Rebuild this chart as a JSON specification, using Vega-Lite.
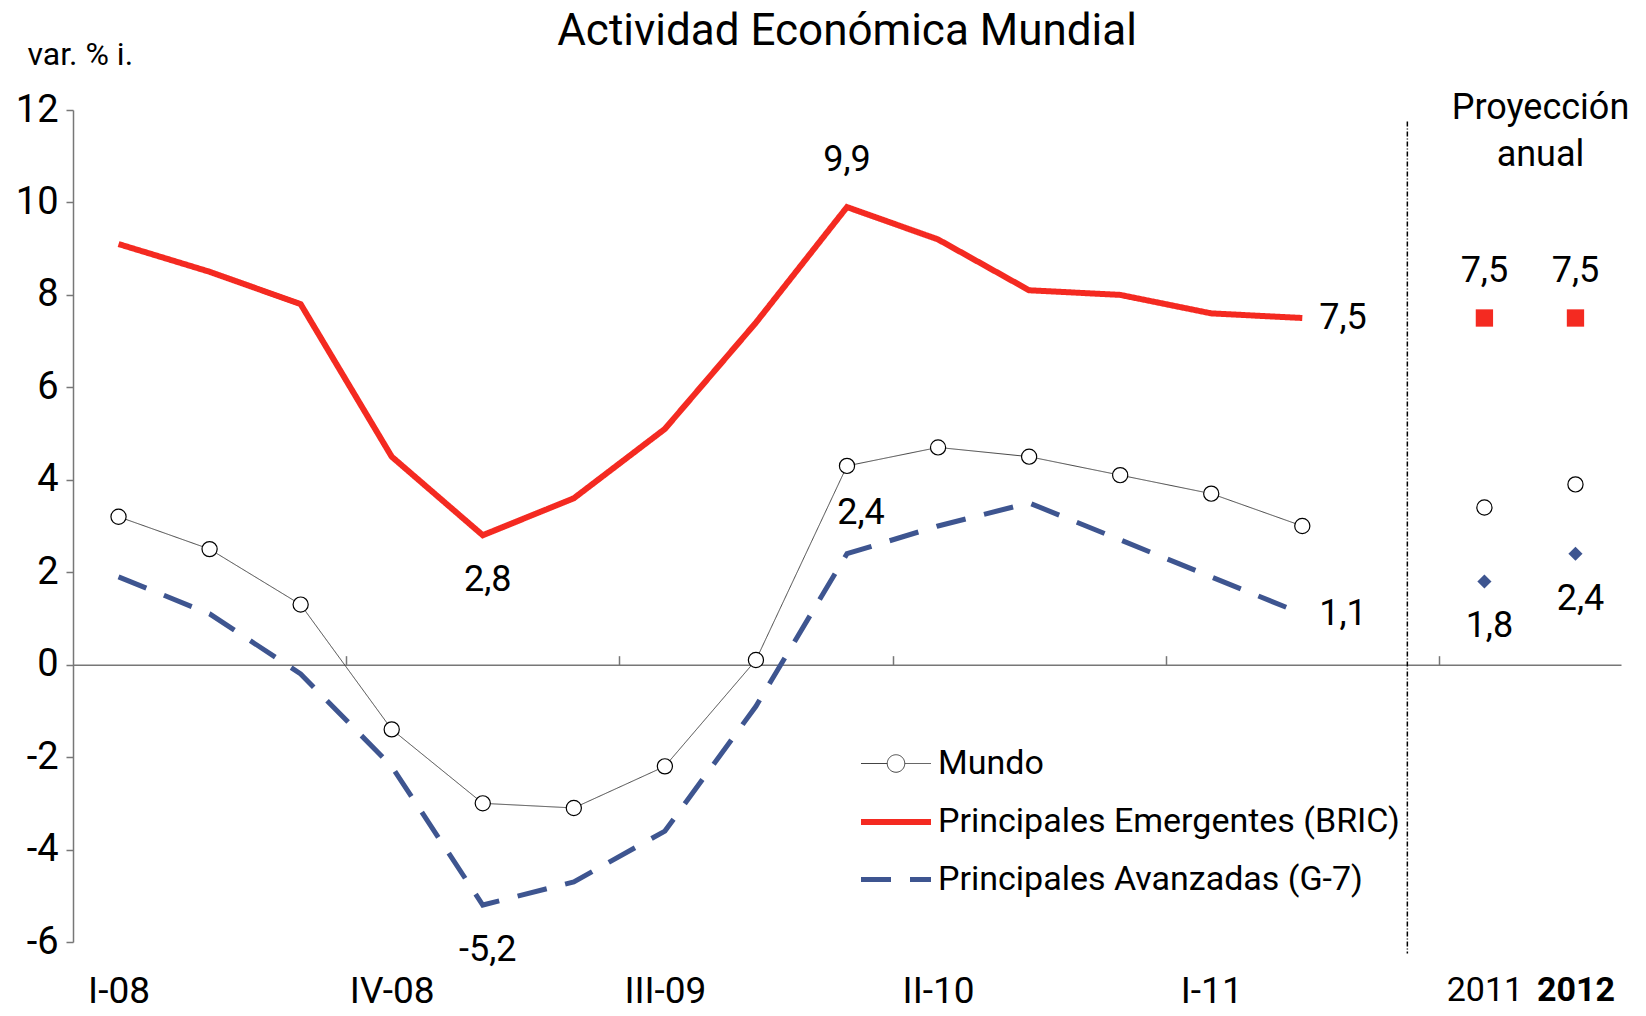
{
  "$schema": "https://vega.github.io/schema/vega-lite/v6.json",
  "width": 1548,
  "height": 832,
  "autosize": {"type": "none"},
  "padding": {"left": 73, "top": 110, "right": 25, "bottom": 74},
  "background": "white",
  "title": {"text": "Actividad Económica Mundial", "fontSize": 44, "fontWeight": "normal", "color": "black", "anchor": "middle", "offset": 0, "dy": 16},
  "config": {
    "font": "Roboto",
    "view": {"stroke": null},
    "axis": {"grid": false},
    "axisY": {"labelFontSize": 38, "labelColor": "black", "labelPadding": 8, "tickSize": 7, "tickColor": "#777777", "domainColor": "#777777", "domainWidth": 1.5, "tickWidth": 1.5, "titleAngle": 0, "titleAlign": "left", "titleBaseline": "middle", "titleX": -46, "titleY": -56, "titleFontSize": 32, "titleFontWeight": "normal", "titleColor": "black"},
    "legend": {"orient": "none", "legendX": 785, "legendY": 618, "labelFontSize": 34, "labelColor": "black", "labelLimit": 700, "symbolSize": 4900, "symbolType": "stroke", "symbolOpacity": 1, "labelOffset": 4, "rowPadding": 3}
  },
  "datasets": {
    "trimestral": [
      {"serie": "Mundo", "q": "I-08", "v": 3.2},
      {"serie": "Mundo", "q": "II-08", "v": 2.5},
      {"serie": "Mundo", "q": "III-08", "v": 1.3},
      {"serie": "Mundo", "q": "IV-08", "v": -1.4},
      {"serie": "Mundo", "q": "I-09", "v": -3.0},
      {"serie": "Mundo", "q": "II-09", "v": -3.1},
      {"serie": "Mundo", "q": "III-09", "v": -2.2},
      {"serie": "Mundo", "q": "IV-09", "v": 0.1},
      {"serie": "Mundo", "q": "I-10", "v": 4.3},
      {"serie": "Mundo", "q": "II-10", "v": 4.7},
      {"serie": "Mundo", "q": "III-10", "v": 4.5},
      {"serie": "Mundo", "q": "IV-10", "v": 4.1},
      {"serie": "Mundo", "q": "I-11", "v": 3.7},
      {"serie": "Mundo", "q": "II-11", "v": 3.0},
      {"serie": "Principales Emergentes (BRIC)", "q": "I-08", "v": 9.1},
      {"serie": "Principales Emergentes (BRIC)", "q": "II-08", "v": 8.5},
      {"serie": "Principales Emergentes (BRIC)", "q": "III-08", "v": 7.8},
      {"serie": "Principales Emergentes (BRIC)", "q": "IV-08", "v": 4.5},
      {"serie": "Principales Emergentes (BRIC)", "q": "I-09", "v": 2.8},
      {"serie": "Principales Emergentes (BRIC)", "q": "II-09", "v": 3.6},
      {"serie": "Principales Emergentes (BRIC)", "q": "III-09", "v": 5.1},
      {"serie": "Principales Emergentes (BRIC)", "q": "IV-09", "v": 7.4},
      {"serie": "Principales Emergentes (BRIC)", "q": "I-10", "v": 9.9},
      {"serie": "Principales Emergentes (BRIC)", "q": "II-10", "v": 9.2},
      {"serie": "Principales Emergentes (BRIC)", "q": "III-10", "v": 8.1},
      {"serie": "Principales Emergentes (BRIC)", "q": "IV-10", "v": 8.0},
      {"serie": "Principales Emergentes (BRIC)", "q": "I-11", "v": 7.6},
      {"serie": "Principales Emergentes (BRIC)", "q": "II-11", "v": 7.5},
      {"serie": "Principales Avanzadas (G-7)", "q": "I-08", "v": 1.9},
      {"serie": "Principales Avanzadas (G-7)", "q": "II-08", "v": 1.1},
      {"serie": "Principales Avanzadas (G-7)", "q": "III-08", "v": -0.2},
      {"serie": "Principales Avanzadas (G-7)", "q": "IV-08", "v": -2.2},
      {"serie": "Principales Avanzadas (G-7)", "q": "I-09", "v": -5.2},
      {"serie": "Principales Avanzadas (G-7)", "q": "II-09", "v": -4.7},
      {"serie": "Principales Avanzadas (G-7)", "q": "III-09", "v": -3.6},
      {"serie": "Principales Avanzadas (G-7)", "q": "IV-09", "v": -0.9},
      {"serie": "Principales Avanzadas (G-7)", "q": "I-10", "v": 2.4},
      {"serie": "Principales Avanzadas (G-7)", "q": "II-10", "v": 3.0},
      {"serie": "Principales Avanzadas (G-7)", "q": "III-10", "v": 3.5},
      {"serie": "Principales Avanzadas (G-7)", "q": "IV-10", "v": 2.7},
      {"serie": "Principales Avanzadas (G-7)", "q": "I-11", "v": 1.9},
      {"serie": "Principales Avanzadas (G-7)", "q": "II-11", "v": 1.1}
    ],
    "proyeccion": [
      {"serie": "Mundo", "q": "2011", "v": 3.4},
      {"serie": "Mundo", "q": "2012", "v": 3.9},
      {"serie": "Principales Emergentes (BRIC)", "q": "2011", "v": 7.5},
      {"serie": "Principales Emergentes (BRIC)", "q": "2012", "v": 7.5},
      {"serie": "Principales Avanzadas (G-7)", "q": "2011", "v": 1.8},
      {"serie": "Principales Avanzadas (G-7)", "q": "2012", "v": 2.4}
    ],
    "etiquetas": [
      {"serie": "Principales Emergentes (BRIC)", "q": "I-10", "v": 9.9, "texto": "9,9"},
      {"serie": "Principales Emergentes (BRIC)", "q": "I-09", "v": 2.8, "texto": "2,8"},
      {"serie": "Principales Avanzadas (G-7)", "q": "I-09", "v": -5.2, "texto": "-5,2"},
      {"serie": "Principales Avanzadas (G-7)", "q": "I-10", "v": 2.4, "texto": "2,4"},
      {"serie": "Principales Emergentes (BRIC)", "q": "II-11", "v": 7.5, "texto": "7,5"},
      {"serie": "Principales Avanzadas (G-7)", "q": "II-11", "v": 1.1, "texto": "1,1"},
      {"serie": "Principales Emergentes (BRIC)", "q": "2011", "v": 7.5, "texto": "7,5"},
      {"serie": "Principales Emergentes (BRIC)", "q": "2012", "v": 7.5, "texto": "7,5"},
      {"serie": "Principales Avanzadas (G-7)", "q": "2011", "v": 1.8, "texto": "1,8"},
      {"serie": "Principales Avanzadas (G-7)", "q": "2012", "v": 2.4, "texto": "2,4"}
    ],
    "separador": [
      {"q": " "}
    ],
    "rotulo": [
      {"q": "2012", "texto": "Proyección anual"}
    ]
  },
  "encoding": {
    "x": {"field": "q", "type": "ordinal", "title": null, "axis": null,
      "sort": ["I-08","II-08","III-08","IV-08","I-09","II-09","III-09","IV-09","I-10","II-10","III-10","IV-10","I-11","II-11"," ","2011","2012"],
      "scale": {"type": "point", "padding": 0.5, "domain": ["I-08","II-08","III-08","IV-08","I-09","II-09","III-09","IV-09","I-10","II-10","III-10","IV-10","I-11","II-11"," ","2011","2012"]}}
  },
  "layer": [
    {
      "data": {"name": "trimestral"},
      "mark": {"type": "line"},
      "encoding": {
        "x": {"field": "q", "type": "ordinal", "title": null,
          "sort": ["I-08","II-08","III-08","IV-08","I-09","II-09","III-09","IV-09","I-10","II-10","III-10","IV-10","I-11","II-11"," ","2011","2012"],
          "scale": {"type": "point", "padding": 0.5, "domain": ["I-08","II-08","III-08","IV-08","I-09","II-09","III-09","IV-09","I-10","II-10","III-10","IV-10","I-11","II-11"," ","2011","2012"]},
          "axis": {"orient": "bottom", "values": ["I-08","IV-08","III-09","II-10","I-11","2011","2012"], "domain": false, "ticks": false, "labelColor": "black", "labelPadding": 31, "labelAngle": 0,
            "labelFontSize": {"condition": {"test": "datum.value == '2011' || datum.value == '2012'", "value": 34}, "value": 37},
            "labelFontWeight": {"condition": {"test": "datum.value == '2012'", "value": "bold"}, "value": "normal"}, "grid": false}},
        "y": {"field": "v", "type": "quantitative", "title": "var. % i.", "scale": {"domain": [-6, 12], "nice": false, "zero": false}, "axis": {"values": [-6, -4, -2, 0, 2, 4, 6, 8, 10, 12], "labelExpr": "'' + datum.value"}},
        "color": {"field": "serie", "type": "nominal", "title": null,
          "scale": {"domain": ["Mundo", "Principales Emergentes (BRIC)", "Principales Avanzadas (G-7)"], "range": ["#444444", "#F42A21", "#3E5590"]}},
        "strokeDash": {"field": "serie", "type": "nominal", "title": null,
          "scale": {"domain": ["Mundo", "Principales Emergentes (BRIC)", "Principales Avanzadas (G-7)"], "range": [[1, 0], [1, 0], [30, 19]]}},
        "strokeWidth": {"field": "serie", "type": "nominal", "title": null,
          "scale": {"type": "ordinal", "domain": ["Mundo", "Principales Emergentes (BRIC)", "Principales Avanzadas (G-7)"], "range": [1, 6, 5]}}
      }
    },
    {
      "data": {"name": "trimestral"},
      "transform": [{"filter": "datum.serie == 'Mundo'"}],
      "mark": {"type": "point", "opacity": 0},
      "encoding": {
        "y": {"field": "v", "type": "quantitative", "title": "var. % i."},
        "shape": {"field": "serie", "type": "nominal", "title": null,
          "scale": {"domain": ["Mundo", "Principales Emergentes (BRIC)", "Principales Avanzadas (G-7)"], "range": ["M-1,0H-0.25M0.25,0H1M-0.25,0A0.25,0.25 0 1,1 0.25,0A0.25,0.25 0 1,1 -0.25,0", "stroke", "stroke"]}}
      }
    },
    {
      "data": {"name": "trimestral"},
      "transform": [{"filter": "datum.serie == 'Mundo'"}],
      "mark": {"type": "point", "shape": "circle", "filled": true, "fill": "white", "stroke": "black", "strokeWidth": 1.2, "size": 230, "opacity": 1},
      "encoding": {
        "x": {"field": "q", "type": "ordinal", "title": null,
          "sort": ["I-08","II-08","III-08","IV-08","I-09","II-09","III-09","IV-09","I-10","II-10","III-10","IV-10","I-11","II-11"," ","2011","2012"],
          "scale": {"type": "point", "padding": 0.5, "domain": ["I-08","II-08","III-08","IV-08","I-09","II-09","III-09","IV-09","I-10","II-10","III-10","IV-10","I-11","II-11"," ","2011","2012"]},
          "axis": {"orient": "bottom", "values": ["IV-08","III-09","II-10","I-11","2011"], "labels": false, "domain": true, "domainColor": "#777777", "domainWidth": 1.5, "ticks": true, "tickSize": -9, "tickColor": "#777777", "tickWidth": 1.5, "tickOffset": -45.53, "offset": -277.33, "grid": false}},
        "y": {"field": "v", "type": "quantitative", "title": "var. % i."}
      }
    },
    {
      "data": {"name": "proyeccion"},
      "transform": [{"filter": "datum.serie == 'Mundo'"}],
      "mark": {"type": "point", "shape": "circle", "filled": true, "fill": "white", "stroke": "black", "strokeWidth": 1.2, "size": 230, "opacity": 1},
      "encoding": {"y": {"field": "v", "type": "quantitative", "title": "var. % i."}}
    },
    {
      "data": {"name": "proyeccion"},
      "transform": [{"filter": "datum.serie == 'Principales Emergentes (BRIC)'"}],
      "mark": {"type": "point", "shape": "square", "filled": true, "fill": "#F42A21", "strokeWidth": 0, "size": 300, "opacity": 1},
      "encoding": {"y": {"field": "v", "type": "quantitative", "title": "var. % i."}}
    },
    {
      "data": {"name": "proyeccion"},
      "transform": [{"filter": "datum.serie == 'Principales Avanzadas (G-7)'"}],
      "mark": {"type": "point", "shape": "diamond", "filled": true, "fill": "#3E5590", "strokeWidth": 0, "size": 200, "opacity": 1},
      "encoding": {"y": {"field": "v", "type": "quantitative", "title": "var. % i."}}
    },
    {
      "data": {"name": "etiquetas"},
      "transform": [{"filter": "datum.serie == 'Principales Emergentes (BRIC)' && (datum.q == 'I-10' || datum.q == '2011' || datum.q == '2012')"}],
      "mark": {"type": "text", "fontSize": 36, "color": "black", "baseline": "middle", "align": "center", "dy": -47},
      "encoding": {"y": {"field": "v", "type": "quantitative", "title": "var. % i."}, "text": {"field": "texto"}}
    },
    {
      "data": {"name": "etiquetas"},
      "transform": [{"filter": "datum.serie == 'Principales Avanzadas (G-7)' && datum.q == 'I-10'"}],
      "mark": {"type": "text", "fontSize": 36, "color": "black", "baseline": "middle", "align": "center", "dy": -41, "dx": 14},
      "encoding": {"y": {"field": "v", "type": "quantitative", "title": "var. % i."}, "text": {"field": "texto"}}
    },
    {
      "data": {"name": "etiquetas"},
      "transform": [{"filter": "datum.q == 'I-09' || (datum.serie == 'Principales Avanzadas (G-7)' && (datum.q == '2011' || datum.q == '2012'))"}],
      "mark": {"type": "text", "fontSize": 36, "color": "black", "baseline": "middle", "align": "center", "dy": 45, "dx": 5},
      "encoding": {"y": {"field": "v", "type": "quantitative", "title": "var. % i."}, "text": {"field": "texto"}}
    },
    {
      "data": {"name": "etiquetas"},
      "transform": [{"filter": "datum.q == 'II-11'"}],
      "mark": {"type": "text", "fontSize": 36, "color": "black", "baseline": "middle", "align": "left", "dx": 17},
      "encoding": {"y": {"field": "v", "type": "quantitative", "title": "var. % i."}, "text": {"field": "texto"}}
    },
    {
      "data": {"name": "separador"},
      "mark": {"type": "rule", "color": "black", "strokeWidth": 1.5, "strokeDash": [5, 2, 1, 2], "xOffset": 14},
      "encoding": {
        "y": {"datum": 11.75, "type": "quantitative"},
        "y2": {"datum": -6.25}
      }
    },
    {
      "data": {"name": "rotulo"},
      "mark": {"type": "text", "fontSize": 36, "color": "black", "align": "center", "baseline": "middle", "lineHeight": 47, "dx": -35, "lineBreak": " "},
      "encoding": {
        "y": {"datum": 12.05, "type": "quantitative"},
        "text": {"field": "texto"}
      }
    }
  ],
  "resolve": {"axis": {"x": "independent"}}
}
